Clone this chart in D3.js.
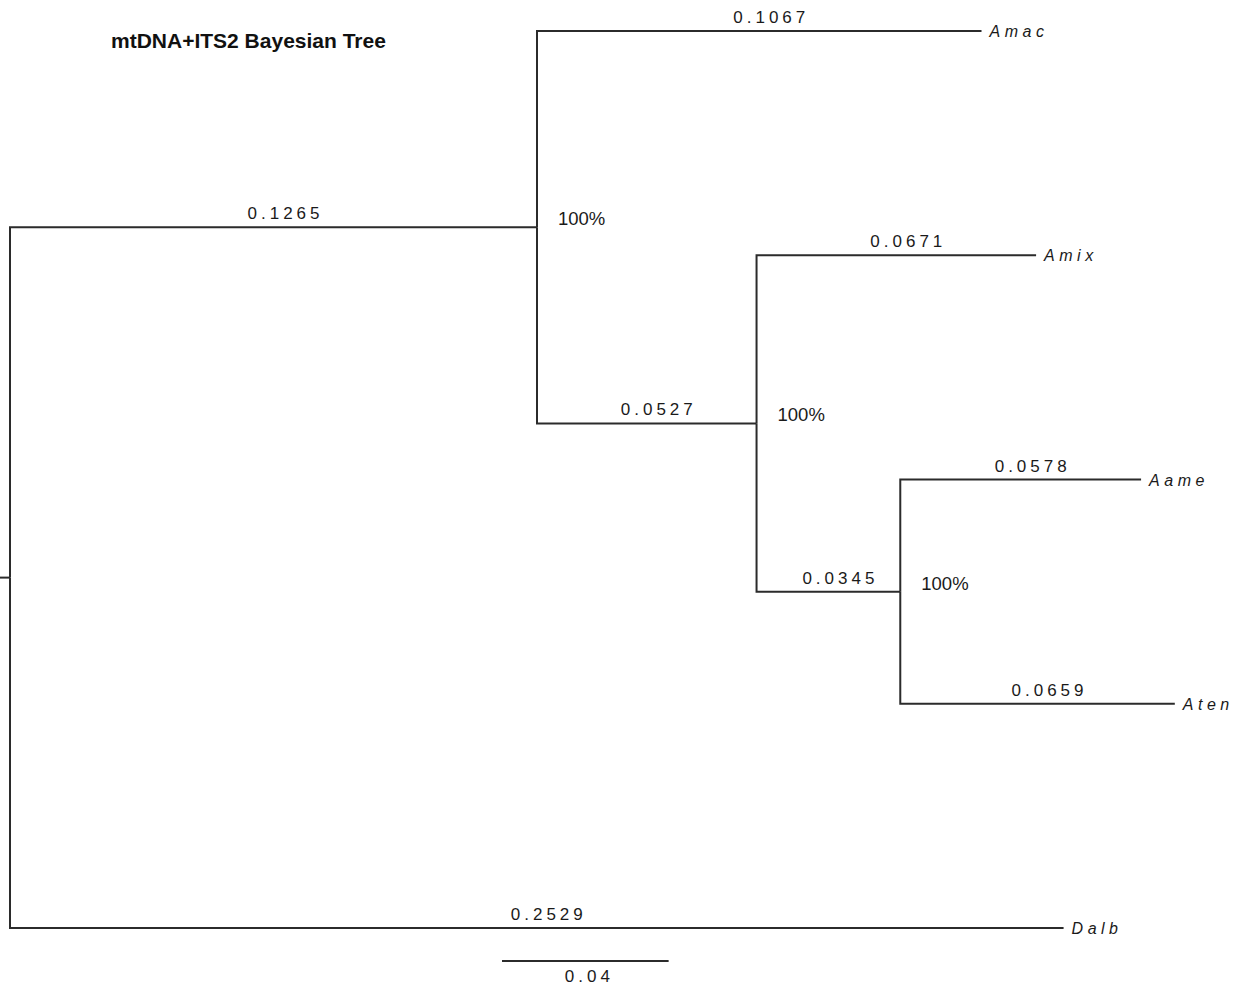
<!DOCTYPE html>
<html>
<head>
<meta charset="utf-8">
<script src="https://cdn.jsdelivr.net/npm/d3@7"></script>
<style>
  html, body { margin: 0; padding: 0; background: #fff; }
  svg { display: block; }
</style>
</head>
<body>
<svg id="tree" width="1237" height="989"></svg>
<script>
// Tree topology: each node's parent and its branch length (substitutions/site)
const nodeIds      = ["root", "n1",   "Amac", "n2",   "Amix", "n3",   "Aame", "Aten", "Dalb"];
const nodeParents  = [null,   "root", "n1",   "n1",   "n2",   "n2",   "n3",   "n3",   "root"];
const branchLength = [0,      0.1265, 0.1067, 0.0527, 0.0671, 0.0345, 0.0578, 0.0659, 0.2529];
const supportLabel = ["",     "100%", "",     "100%", "",     "100%", "",     "",     ""];
const title = "mtDNA+ITS2 Bayesian Tree";
const scaleBarValue = 0.04;

const svg = d3.select("#tree");
const ink = "#2b2b2b";
const font = "Liberation Sans, Arial, sans-serif";

const table = nodeIds.map((id, i) => ({
  id, parent: nodeParents[i], len: branchLength[i], support: supportLabel[i]
}));
const root = d3.stratify().id(d => d.id).parentId(d => d.parent)(table);

// Horizontal placement: cumulative branch length from root
root.eachBefore(n => { n.dist = n.parent ? n.parent.dist + n.data.len : 0; });

// Vertical placement: leaves evenly spaced in order, internal nodes midway
// between their first and last child
const leaves = root.leaves();
const y = d3.scalePoint().domain(leaves.map(d => d.id)).range([31, 928]);
root.eachAfter(n => {
  n.py = n.children
    ? (n.children[0].py + n.children[n.children.length - 1].py) / 2
    : y(n.id);
});

const x = d3.scaleLinear().domain([0, 0.1265]).range([10, 537]);

// Root stub
svg.append("line")
  .attr("x1", 0).attr("x2", x(0))
  .attr("y1", root.py).attr("y2", root.py)
  .attr("stroke", ink).attr("stroke-width", 2);

// Elbow links
svg.append("g").selectAll("path")
  .data(root.links())
  .join("path")
  .attr("fill", "none")
  .attr("stroke", ink)
  .attr("stroke-width", 2)
  .attr("d", l => `M${x(l.source.dist)},${l.source.py}V${l.target.py}H${x(l.target.dist)}`);

// Branch length labels
svg.append("g").selectAll("text")
  .data(root.descendants().filter(d => d.parent))
  .join("text")
  .attr("x", d => (x(d.parent.dist) + x(d.dist)) / 2 + 12)
  .attr("y", d => d.py - 8)
  .attr("text-anchor", "middle")
  .attr("font-family", font)
  .attr("font-size", 17)
  .attr("letter-spacing", 4)
  .attr("fill", "#1a1a1a")
  .text(d => d.data.len.toFixed(4));

// Tip names
svg.append("g").selectAll("text")
  .data(leaves)
  .join("text")
  .attr("x", d => x(d.dist) + 8)
  .attr("y", d => d.py + 6)
  .attr("font-family", font)
  .attr("font-style", "italic")
  .attr("font-size", 16)
  .attr("letter-spacing", 4.5)
  .attr("fill", "#1a1a1a")
  .text(d => d.id);

// Posterior support
svg.append("g").selectAll("text")
  .data(root.descendants().filter(d => d.data.support))
  .join("text")
  .attr("x", d => x(d.dist) + 21)
  .attr("y", d => d.py - 2)
  .attr("font-family", font)
  .attr("font-size", 18.5)
  .attr("fill", "#1a1a1a")
  .text(d => d.data.support);

// Title
svg.append("text")
  .attr("x", 111).attr("y", 48)
  .attr("font-family", font)
  .attr("font-weight", "bold")
  .attr("font-size", 21)
  .attr("fill", "#111")
  .text(title);

// Scale bar
const barX0 = 502;
const barLen = x(scaleBarValue) - x(0);
svg.append("line")
  .attr("x1", barX0).attr("x2", barX0 + barLen)
  .attr("y1", 961).attr("y2", 961)
  .attr("stroke", ink).attr("stroke-width", 2);
svg.append("text")
  .attr("x", barX0 + barLen / 2 + 4)
  .attr("y", 982)
  .attr("text-anchor", "middle")
  .attr("font-family", font)
  .attr("font-size", 17)
  .attr("letter-spacing", 4)
  .attr("fill", "#1a1a1a")
  .text(scaleBarValue.toFixed(2));
</script>
</body>
</html>
